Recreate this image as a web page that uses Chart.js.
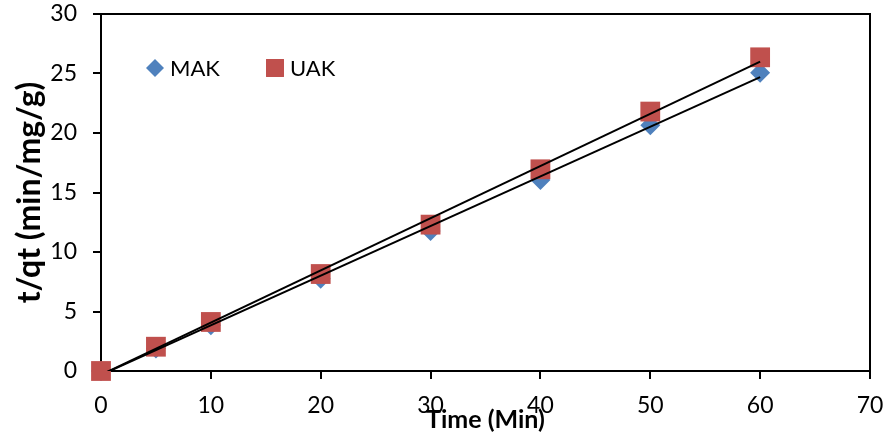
<!DOCTYPE html>
<html>
<head>
<meta charset="utf-8">
<script src="https://cdn.jsdelivr.net/npm/chart.js@4.4.1/dist/chart.umd.min.js"></script>
<style>
  html, body { margin: 0; padding: 0; background: #fff; }
  #wrap { width: 885px; height: 439px; }
</style>
</head>
<body>
<div id="wrap"><canvas id="myChart" width="885" height="439"></canvas></div>
<script>
'use strict';

// data
var timeMin = [0, 5, 10, 20, 30, 40, 50, 60];
var makValues = [0, 1.9, 3.84, 7.76, 11.76, 16.05, 20.65, 25.07];
var uakValues = [0, 2.04, 4.12, 8.15, 12.3, 16.95, 21.8, 26.36];

// trend line end points (x = 0 and x = 60)
var trendX = [0, 60];
var makTrend = [-0.33, 24.69];
var uakTrend = [-0.32, 26.0];

var xTicks = [0, 10, 20, 30, 40, 50, 60, 70];
var yTicks = [0, 5, 10, 15, 20, 25, 30];

function toPoints(xs, ys) {
  return xs.map(function(x, i) { return { x: x, y: ys[i] }; });
}

var fontName = 'Lato';

// box round the plot area (top and right edges)
var frame = {
  id: 'frame',
  afterDatasetsDraw: function(chart) {
    var a = chart.chartArea;
    var ctx = chart.ctx;
    ctx.save();
    ctx.strokeStyle = '#000';
    ctx.lineWidth = 2;
    ctx.beginPath();
    ctx.moveTo(a.left, a.top);
    ctx.lineTo(a.right, a.top);
    ctx.lineTo(a.right, a.bottom);
    ctx.stroke();
    ctx.restore();
  }
};

// legend inside the plot, one row, top left
var insideLegend = {
  id: 'insideLegend',
  afterDraw: function(chart) {
    var ctx = chart.ctx;
    var a = chart.chartArea;
    var items = [
      { ds: chart.data.datasets[0], dx: 54, tx: 69, radius: 9 },
      { ds: chart.data.datasets[1], dx: 174, tx: 189, radius: 12.7 }
    ];
    var y = a.top + 54;
    ctx.save();
    items.forEach(function(it) {
      ctx.fillStyle = it.ds.backgroundColor;
      ctx.strokeStyle = it.ds.backgroundColor;
      Chart.helpers.drawPoint(ctx, { pointStyle: it.ds.pointStyle, radius: it.radius, rotation: 0, borderWidth: 0 }, a.left + it.dx, y);
      ctx.fillStyle = '#000';
      ctx.font = '22px ' + fontName;
      ctx.textBaseline = 'middle';
      ctx.textAlign = 'left';
      ctx.fillText(it.ds.label, a.left + it.tx, y + 1);
    });
    ctx.restore();
  }
};

var ctx = document.getElementById('myChart').getContext('2d');

var chart = new Chart(ctx, {
  type: 'scatter',
  data: {
    datasets: [
      {
        label: 'MAK',
        data: toPoints(timeMin, makValues),
        backgroundColor: '#4F81BD',
        borderColor: '#4F81BD',
        borderWidth: 0,
        pointStyle: 'rectRot',
        pointRadius: 10,
        pointHoverRadius: 10,
        clip: false,
        order: 4
      },
      {
        label: 'UAK',
        data: toPoints(timeMin, uakValues),
        backgroundColor: '#C0504D',
        borderColor: '#C0504D',
        borderWidth: 0,
        pointStyle: 'rect',
        pointRadius: 14,
        pointHoverRadius: 14,
        clip: false,
        order: 3
      },
      {
        label: 'trendMAK',
        type: 'line',
        data: toPoints(trendX, makTrend),
        borderColor: '#000',
        borderWidth: 2,
        pointRadius: 0,
        fill: false,
        clip: 0,
        order: 1
      },
      {
        label: 'trendUAK',
        type: 'line',
        data: toPoints(trendX, uakTrend),
        borderColor: '#000',
        borderWidth: 2,
        pointRadius: 0,
        fill: false,
        clip: 0,
        order: 2
      }
    ]
  },
  options: {
    responsive: false,
    animation: false,
    layout: { padding: 0 },
    plugins: {
      tooltip: { enabled: false },
      legend: { display: false }
    },
    scales: {
      x: {
        type: 'linear',
        min: 0,
        max: 70,
        afterBuildTicks: function(scale) {
          scale.ticks = xTicks.map(function(v) { return { value: v }; });
        },
        afterFit: function(scale) {
          scale.height = 68;
          scale.paddingLeft = 0;
          scale.paddingRight = 15;
        },
        grid: { drawOnChartArea: false, drawTicks: true, tickLength: 8, color: '#000', lineWidth: 2 },
        border: { display: true, color: '#000', width: 2 },
        ticks: { color: '#000', padding: 13, maxRotation: 0, font: { family: fontName, size: 23 } },
        title: {
          display: true,
          text: 'Time (Min)',
          color: '#000',
          padding: { top: 0, bottom: 4 },
          font: { family: fontName, size: 25, weight: 'bold' }
        }
      },
      y: {
        type: 'linear',
        min: 0,
        max: 30,
        afterBuildTicks: function(scale) {
          scale.ticks = yTicks.map(function(v) { return { value: v }; });
        },
        afterFit: function(scale) {
          scale.width = 101;
          scale.paddingTop = 14;
          scale.paddingBottom = 0;
        },
        grid: { drawOnChartArea: false, drawTicks: true, tickLength: 8, color: '#000', lineWidth: 2 },
        border: { display: true, color: '#000', width: 2 },
        ticks: { color: '#000', padding: 16, font: { family: fontName, size: 23 } },
        title: {
          display: true,
          text: 't/qt (min/mg/g)',
          color: '#000',
          padding: { top: 10, bottom: 0 },
          font: { family: fontName, size: 32, weight: 'bold' }
        }
      }
    }
  },
  plugins: [frame, insideLegend]
});
</script>
</body>
</html>
